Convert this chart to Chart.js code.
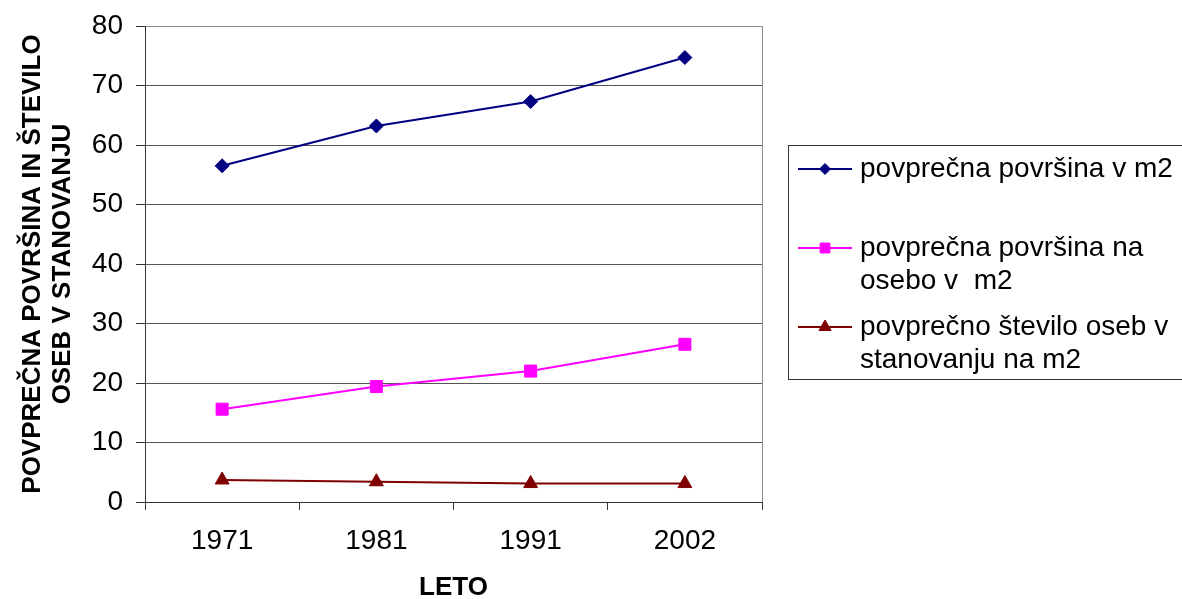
<!DOCTYPE html>
<html>
<head>
<meta charset="utf-8">
<script src="https://cdn.jsdelivr.net/npm/chart.js@4.4.1/dist/chart.umd.min.js"></script>
<style>
  html, body { margin: 0; padding: 0; background: #ffffff; }
  #wrap { width: 1182px; height: 599px; position: relative; }
</style>
</head>
<body>
<div id="wrap"><canvas id="c" width="1182" height="599"></canvas></div>
<script>
// Census years and the three series
const years = ['1971', '1981', '1991', '2002'];
const avgArea = [56.5, 63.2, 67.3, 74.7];
const areaPerPerson = [15.6, 19.4, 22.0, 26.5];
const personsPerDwelling = [3.7, 3.4, 3.1, 3.1];

// Legend labels (already broken into lines) and axis titles
const seriesNames = [
  ['povprečna površina v m2'],
  ['povprečna površina na', 'osebo v  m2'],
  ['povprečno število oseb v', 'stanovanju na m2']
];
const yAxisTitle = ['POVPREČNA POVRŠINA IN ŠTEVILO', 'OSEB V STANOVANJU'];
const xAxisTitle = 'LETO';

// Value axis range
const yMin = 0;
const yMax = 80;
const yStep = 10;

const FONT = '"Liberation Sans", Arial, Helvetica, sans-serif';
Chart.defaults.font.family = FONT;
Chart.defaults.color = '#000000';

// Right edge of the plot frame plus the boxed legend on the right
const frameAndLegend = {
  id: 'frameAndLegend',
  beforeDatasetsDraw(chart) {
    const { ctx, chartArea: a } = chart;
    ctx.save();
    ctx.strokeStyle = '#8c8c8c';
    ctx.lineWidth = 1;
    ctx.beginPath();
    ctx.moveTo(Math.round(a.right) + 0.5, a.top);
    ctx.lineTo(Math.round(a.right) + 0.5, a.bottom);
    ctx.stroke();
    ctx.restore();
  },
  afterDraw(chart) {
    const { ctx } = chart;
    const boxLeft = 788, boxTop = 145, boxBottom = 379;
    const sampleX0 = 798, sampleX1 = 852, textX = 860;
    const firstY = 169, itemGap = 79, lineGap = 33;
    ctx.save();
    ctx.strokeStyle = '#333333';
    ctx.lineWidth = 1;
    ctx.strokeRect(boxLeft + 0.5, boxTop + 0.5, 500, boxBottom - boxTop);

    chart.data.datasets.forEach((ds, i) => {
      const y = firstY + i * itemGap;
      ctx.strokeStyle = ds.borderColor;
      ctx.lineWidth = 2;
      ctx.beginPath();
      ctx.moveTo(sampleX0, y);
      ctx.lineTo(sampleX1, y);
      ctx.stroke();
      ctx.fillStyle = ds.pointBackgroundColor;
      ctx.strokeStyle = ds.borderColor;
      ctx.lineWidth = 1;
      Chart.helpers.drawPoint(ctx, {
        pointStyle: ds.pointStyle,
        radius: ds.legendRadius,
        rotation: 0,
        borderWidth: 1
      }, (sampleX0 + sampleX1) / 2, y);

      ctx.fillStyle = '#000000';
      ctx.font = '28px ' + FONT;
      ctx.textAlign = 'left';
      ctx.textBaseline = 'middle';
      seriesNames[i].forEach((line, k) => {
        ctx.fillText(line, textX, y + k * lineGap);
      });
    });
    ctx.restore();
  }
};

new Chart(document.getElementById('c'), {
  type: 'line',
  data: {
    labels: years,
    datasets: [
      {
        label: seriesNames[0].join(' '),
        data: avgArea,
        borderColor: '#000080',
        backgroundColor: '#000080',
        pointBackgroundColor: '#000080',
        pointStyle: 'rectRot',
        pointRadius: 7,
        legendRadius: 5.5,
        borderWidth: 2,
        pointBorderWidth: 1
      },
      {
        label: seriesNames[1].join(' '),
        data: areaPerPerson,
        borderColor: '#ff00ff',
        backgroundColor: '#ff00ff',
        pointBackgroundColor: '#ff00ff',
        pointStyle: 'rect',
        pointRadius: 8.5,
        legendRadius: 7,
        borderWidth: 2,
        pointBorderWidth: 1
      },
      {
        label: seriesNames[2].join(' '),
        data: personsPerDwelling,
        borderColor: '#800000',
        backgroundColor: '#800000',
        pointBackgroundColor: '#800000',
        pointStyle: 'triangle',
        pointRadius: 8,
        legendRadius: 7,
        borderWidth: 2,
        pointBorderWidth: 1
      }
    ]
  },
  options: {
    responsive: false,
    animation: false,
    layout: { padding: { top: 26, right: 420, bottom: 0, left: 0 } },
    plugins: {
      legend: { display: false },
      tooltip: { enabled: false }
    },
    elements: { line: { tension: 0 } },
    scales: {
      x: {
        type: 'category',
        offset: true,
        border: { display: true, color: '#333333', width: 1 },
        grid: {
          offset: true,
          drawOnChartArea: false,
          drawTicks: true,
          tickLength: 8,
          tickColor: '#333333'
        },
        ticks: {
          padding: 14,
          font: { size: 28 },
          color: '#000000',
          maxRotation: 0,
          autoSkip: false
        },
        title: {
          display: true,
          text: xAxisTitle,
          font: { size: 26, weight: 'bold', lineHeight: 0.85 },
          padding: { top: 0, bottom: 0 },
          color: '#000000'
        },
        afterFit(scale) {
          scale.height = 97;
          scale.paddingLeft = 0;
          scale.paddingRight = 0;
        }
      },
      y: {
        min: yMin,
        max: yMax,
        border: { display: true, color: '#333333', width: 1 },
        grid: {
          drawTicks: true,
          tickLength: 9,
          tickColor: '#333333',
          color: (c) => (c.tick && c.tick.value === yMax ? '#8c8c8c' : '#555555'),
          lineWidth: 1
        },
        ticks: {
          stepSize: yStep,
          padding: 13,
          font: { size: 28 },
          color: '#000000'
        },
        title: {
          display: true,
          text: yAxisTitle,
          font: { size: 26, weight: 'bold', lineHeight: 1.15 },
          padding: { top: 18, bottom: 0 },
          color: '#000000'
        },
        afterFit(scale) {
          scale.width = 145;
          scale.paddingTop = 0;
          scale.paddingBottom = 0;
        }
      }
    }
  },
  plugins: [frameAndLegend]
});
</script>
</body>
</html>
